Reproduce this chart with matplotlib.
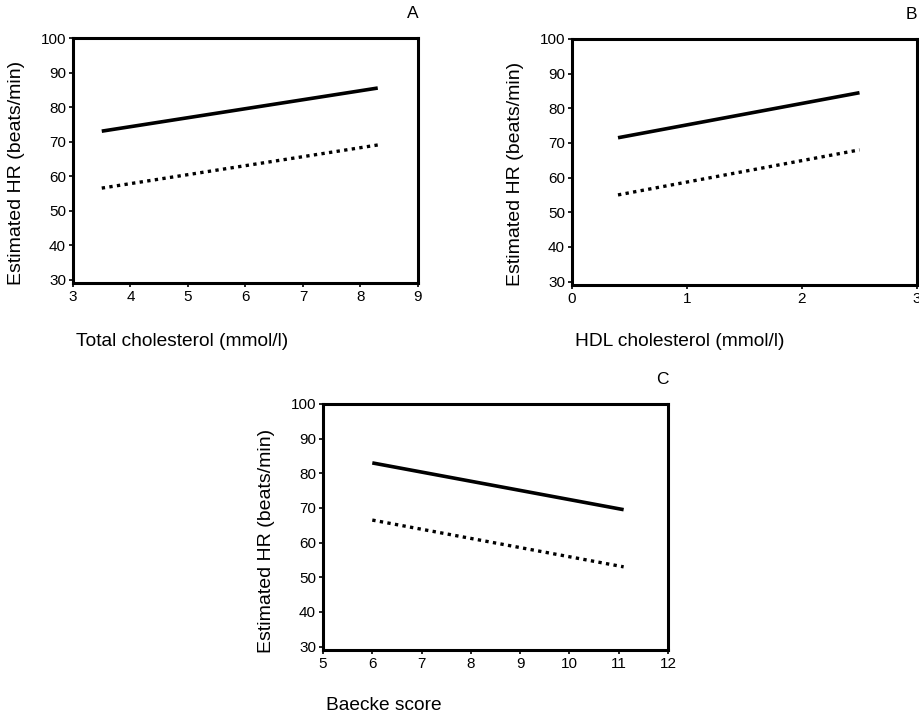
import matplotlib

matplotlib.use("Agg")

import matplotlib.pyplot as plt  # noqa: E402

plt.rcParams["font.family"] = ["Liberation Sans", "DejaVu Sans"]

# Panel A: total cholesterol
chol_x = [3.5, 8.3]
chol_solid = [73.0, 85.5]
chol_dotted = [56.5, 69.0]
chol_ticks = [3, 4, 5, 6, 7, 8, 9]

# Panel B: HDL cholesterol
hdl_x = [0.4, 2.5]
hdl_solid = [71.5, 84.5]
hdl_dotted = [55.0, 68.0]
hdl_ticks = [0, 1, 2, 3]

# Panel C: Baecke score
baecke_x = [6.0, 11.1]
baecke_solid = [83.0, 69.5]
baecke_dotted = [66.5, 53.0]
baecke_ticks = [5, 6, 7, 8, 9, 10, 11, 12]

y_ticks = [30, 40, 50, 60, 70, 80, 90, 100]

W, H = 920, 718
fig = plt.figure(figsize=(W / 100, H / 100), dpi=100)
fig.patch.set_facecolor("white")


def _axes(left, top, right, bottom):
    return fig.add_axes([left / W, 1 - bottom / H, (right - left) / W, (bottom - top) / H])


def _panel(ax, xs, solid, dotted, xticks, xlabel, letter, ylab_y, xlab_y):
    ax.plot(xs, solid, color="black", linewidth=2.6, solid_capstyle="butt")
    ax.plot(xs, dotted, color="black", linewidth=2.4, linestyle=(0, (1.0, 1.3)))
    ax.set_xlim(xticks[0], xticks[-1])
    ax.set_ylim(29, 100)
    ax.set_xticks(xticks)
    ax.set_yticks(y_ticks)
    ax.tick_params(direction="out", length=3, width=1.2, labelsize=11, pad=2)
    for spine in ax.spines.values():
        spine.set_linewidth(2.2)
    ax.set_ylabel("Estimated HR (beats/min)", fontsize=14)
    ax.yaxis.set_label_coords(-0.139, ylab_y)
    ax.set_xlabel(xlabel, fontsize=13.8, ha="left", va="center")
    ax.xaxis.set_label_coords(0.008, xlab_y)
    ax.text(0.985, 1.07, letter, transform=ax.transAxes, fontsize=12.5, ha="center", va="bottom")


ax_a = _axes(73, 38, 418, 283)
ax_b = _axes(572, 39, 917, 285)
ax_c = _axes(323, 404, 668, 650)

_panel(ax_a, chol_x, chol_solid, chol_dotted, chol_ticks, "Total cholesterol (mmol/l)", "A", 0.45, -0.24)
_panel(ax_b, hdl_x, hdl_solid, hdl_dotted, hdl_ticks, "HDL cholesterol (mmol/l)", "B", 0.45, -0.23)
_panel(ax_c, baecke_x, baecke_solid, baecke_dotted, baecke_ticks, "Baecke score", "C", 0.443, -0.224)

fig.savefig("out.png", dpi=100, facecolor="white")
plt.close(fig)
